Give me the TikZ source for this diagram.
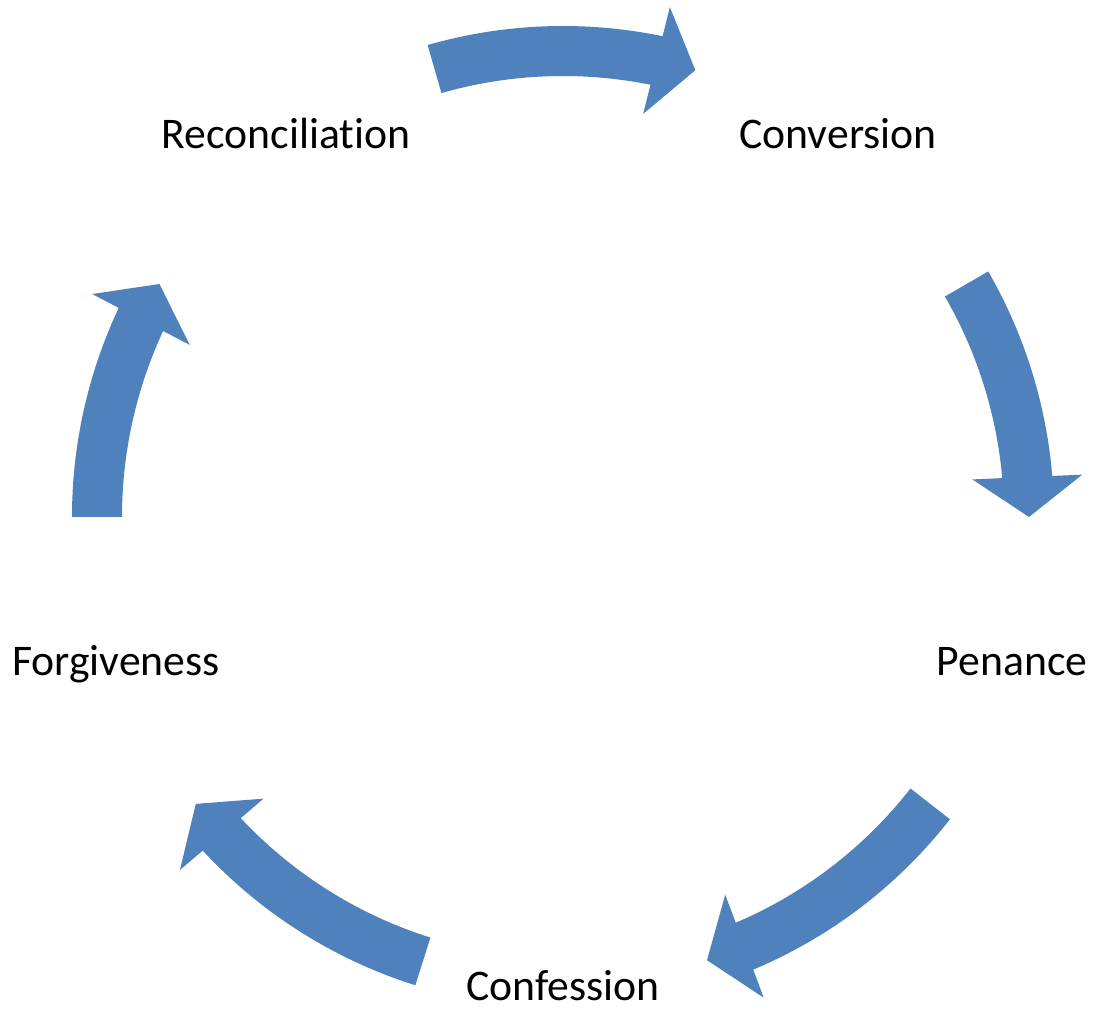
\documentclass[tikz,border=0pt]{standalone}
\usepackage{fontspec}
\setmainfont{Carlito}[Ligatures=NoCommon]
\usetikzlibrary{calc}
\definecolor{accentblue}{RGB}{79,129,189}
\tikzset{
  cyclelabel/.style={anchor=base, inner sep=0pt, font=\fontsize{43.7}{52}\selectfont, text=black},
  cyclearrow/.style={fill=accentblue, draw=none}
}
\begin{document}
\begin{tikzpicture}[x=1pt,y=1pt]
\useasboundingbox (-563pt,-492pt) rectangle (533pt,517pt);
% labels
\node[cyclelabel] (rec) at (-277pt,368.7pt) {Reconciliation};
\node[cyclelabel] (conv) at (275pt,368.7pt) {Conversion};
\node[cyclelabel] (pen) at (449pt,-159pt) {Penance};
\node[cyclelabel] (conf) at (0pt,-483pt) {Confession};
\node[cyclelabel] (forg) at (-447pt,-159pt) {Forgiveness};
% curved arrows (tail angle / tip angle)
\foreach \a/\t in {106/73.5, 30/0, -38/-72, -107.5/-142, 180/150}{
  \pgfmathsetmacro\b{\t+4.92}
  \coordinate (T) at (\t:466pt);
  \coordinate (B) at (\b:466pt);
  \fill[cyclearrow] (\a:491pt) arc[start angle=\a, end angle=\b, radius=491pt]
    -- ($(B)!25pt!90:(T)$) -- ($(B)!55pt!90:(T)$) -- (T)
    -- ($(B)!55pt!-90:(T)$) -- ($(B)!25pt!-90:(T)$)
    -- (\b:441pt) arc[start angle=\b, end angle=\a, radius=441pt] -- cycle;
}
\end{tikzpicture}
\end{document}
